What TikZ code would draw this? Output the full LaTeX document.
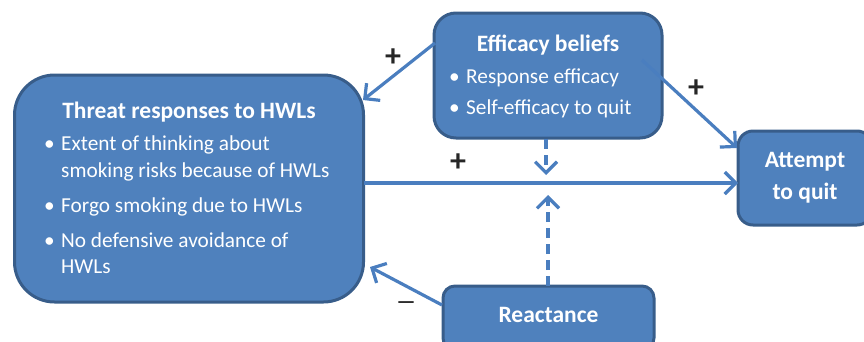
\documentclass[tikz,border=0pt]{standalone}
\usepackage{fontspec}
\setmainfont{Carlito}
\usetikzlibrary{arrows.meta}
\definecolor{boxfill}{HTML}{4F81BD}
\definecolor{boxdraw}{HTML}{385D8A}
\definecolor{arr}{HTML}{4A7EBF}
\tikzset{
  cbox/.style={draw=boxdraw, fill=boxfill, line width=3pt, rectangle, inner sep=0pt},
  ttl/.style={text=white, font=\fontsize{23.5}{26}\selectfont\bfseries, inner sep=0pt, anchor=base},
  txt/.style={text=white, font=\fontsize{21.3}{24}\selectfont, inner sep=0pt, anchor=base west},
  conn/.style={draw=arr, line width=3.2pt, -{Straight Barb[length=11pt,width=22pt,line width=3.2pt]}},
  dconn/.style={conn, dash pattern=on 10pt off 6pt},
  sign/.style={font=\fontsize{32}{34}\selectfont\bfseries, text=black!85, inner sep=0pt, anchor=center}
}
\begin{document}
\begin{tikzpicture}[x=1pt,y=-1pt]
\useasboundingbox (0,0) rectangle (864,341);
\clip (0,0) rectangle (864,341);
% boxes
\node[cbox, minimum width=349pt, minimum height=227pt, rounded corners=40pt] (threat) at (189,188.5) {};
\node[cbox, minimum width=228pt, minimum height=125pt, rounded corners=22pt] (eff) at (548,75.5) {};
\node[cbox, minimum width=134pt, minimum height=94pt, rounded corners=15pt] (att) at (805,178) {};
\node[cbox, minimum width=211pt, minimum height=64pt, rounded corners=12pt] (rea) at (548.5,318) {};
% texts
\node[ttl] (t0) at (189,118) {Threat responses to HWLs};
\node[txt] (t1b) at (44,150) {\textbullet};
\node[txt] (t1) at (61,150) {Extent of thinking about};
\node[txt] (t2) at (61,177) {smoking risks because of HWLs};
\node[txt] (t3b) at (44,212) {\textbullet};
\node[txt] (t3) at (61,212) {Forgo smoking due to HWLs};
\node[txt] (t4b) at (44,247) {\textbullet};
\node[txt] (t4) at (61,247) {No defensive avoidance of};
\node[txt] (t5) at (61,273) {HWLs};
\node[ttl] (e0) at (548,51) {Efficacy beliefs};
\node[txt] (e1b) at (449,83) {\textbullet};
\node[txt] (e1) at (466,83) {Response efficacy};
\node[txt] (e2b) at (449,114) {\textbullet};
\node[txt] (e2) at (466,114) {Self-efficacy to quit};
\node[ttl] (a1) at (805,167) {Attempt};
\node[ttl] (a2) at (805,199) {to quit};
\node[ttl] (r1) at (548.5,322) {Reactance};
% connectors
\coordinate (effL) at (435,43);
\coordinate (thrTR) at (363,100);
\coordinate (effR) at (642,60);
\coordinate (attTL) at (737,148);
\coordinate (thrR) at (364,183);
\coordinate (attL) at (738,183);
\coordinate (effB) at (546,139);
\coordinate (modT) at (546,175);
\coordinate (reaT) at (548,286);
\coordinate (modB) at (548,195);
\coordinate (reaL) at (442,305);
\coordinate (thrBR) at (370,267);
\draw[conn] (effL) -- (thrTR);
\draw[conn] (effR) -- (attTL);
\draw[conn] (thrR) -- (attL);
\draw[dconn] (effB) -- (modT);
\draw[dconn] (reaT) -- (modB);
\draw[conn] (reaL) -- (thrBR);
% signs
\node[sign] (s1) at (393,58) {+};
\node[sign] (s2) at (696,89) {+};
\node[sign] (s3) at (458,163) {+};
\node[sign, font=\fontsize{21}{24}\selectfont\bfseries] (s4) at (406,305) {\textemdash};
\end{tikzpicture}
\end{document}
